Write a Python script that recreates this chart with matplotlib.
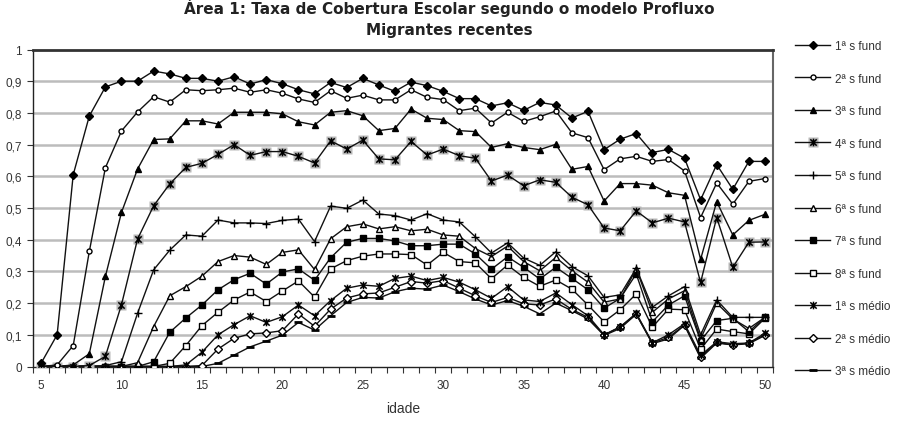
import matplotlib
matplotlib.use('Agg')
import matplotlib.pyplot as plt
from matplotlib.path import Path
from matplotlib.legend_handler import HandlerTuple

plt.rcParams['font.family'] = ['Liberation Sans', 'DejaVu Sans']

ages = list(range(5, 51))

s1 = [0.01, 0.10, 0.605, 0.79, 0.882, 0.90, 0.90, 0.932, 0.923, 0.909, 0.909, 0.90, 0.914, 0.891, 0.905,
      0.892, 0.873, 0.86, 0.896, 0.88, 0.909, 0.888, 0.868, 0.897, 0.886, 0.868, 0.845, 0.845, 0.822, 0.832,
      0.808, 0.833, 0.825, 0.784, 0.805, 0.684, 0.717, 0.735, 0.675, 0.685, 0.657, 0.526, 0.637, 0.559, 0.647, 0.647]
s2 = [0.0, 0.005, 0.066, 0.363, 0.627, 0.743, 0.803, 0.851, 0.834, 0.873, 0.87, 0.873, 0.878, 0.865, 0.873,
      0.862, 0.844, 0.833, 0.87, 0.846, 0.856, 0.841, 0.841, 0.873, 0.849, 0.842, 0.807, 0.815, 0.768, 0.802,
      0.773, 0.788, 0.806, 0.737, 0.722, 0.621, 0.655, 0.663, 0.647, 0.653, 0.617, 0.47, 0.579, 0.512, 0.584, 0.593]
s3 = [0.0, 0.0, 0.005, 0.04, 0.284, 0.486, 0.623, 0.716, 0.718, 0.775, 0.775, 0.765, 0.802, 0.802, 0.802,
      0.797, 0.772, 0.762, 0.802, 0.807, 0.791, 0.744, 0.751, 0.812, 0.783, 0.779, 0.744, 0.741, 0.691, 0.703,
      0.691, 0.684, 0.701, 0.622, 0.631, 0.522, 0.577, 0.577, 0.572, 0.548, 0.54, 0.338, 0.52, 0.415, 0.461, 0.48]
s4 = [0.0, 0.0, 0.0, 0.003, 0.032, 0.195, 0.402, 0.507, 0.576, 0.628, 0.641, 0.669, 0.70, 0.666, 0.678,
      0.678, 0.663, 0.642, 0.712, 0.686, 0.714, 0.655, 0.652, 0.71, 0.667, 0.686, 0.665, 0.657, 0.585, 0.604,
      0.57, 0.589, 0.581, 0.534, 0.51, 0.437, 0.428, 0.491, 0.453, 0.468, 0.456, 0.265, 0.47, 0.313, 0.392, 0.393]
s5 = [0.0, 0.0, 0.0, 0.0, 0.003, 0.015, 0.168, 0.305, 0.367, 0.415, 0.411, 0.462, 0.453, 0.453, 0.451,
      0.461, 0.465, 0.394, 0.506, 0.499, 0.525, 0.481, 0.476, 0.462, 0.482, 0.462, 0.456, 0.409, 0.358, 0.39,
      0.342, 0.319, 0.362, 0.315, 0.286, 0.218, 0.226, 0.31, 0.187, 0.223, 0.252, 0.10, 0.21, 0.155, 0.155, 0.155]
s6 = [0.0, 0.0, 0.0, 0.0, 0.0, 0.0, 0.012, 0.126, 0.223, 0.252, 0.285, 0.331, 0.35, 0.345, 0.322,
      0.36, 0.368, 0.306, 0.403, 0.441, 0.45, 0.434, 0.441, 0.428, 0.433, 0.415, 0.411, 0.372, 0.347, 0.38,
      0.331, 0.302, 0.344, 0.302, 0.266, 0.203, 0.213, 0.308, 0.171, 0.213, 0.239, 0.087, 0.20, 0.15, 0.12, 0.155]
s7 = [0.0, 0.0, 0.0, 0.0, 0.0, 0.0, 0.0, 0.015, 0.108, 0.153, 0.194, 0.242, 0.274, 0.294, 0.26,
      0.298, 0.308, 0.272, 0.343, 0.392, 0.404, 0.404, 0.396, 0.381, 0.381, 0.386, 0.386, 0.355, 0.307, 0.346,
      0.313, 0.276, 0.313, 0.278, 0.242, 0.184, 0.215, 0.292, 0.141, 0.194, 0.223, 0.081, 0.145, 0.152, 0.11, 0.155]
s8 = [0.0, 0.0, 0.0, 0.0, 0.0, 0.0, 0.0, 0.0, 0.01, 0.066, 0.129, 0.171, 0.21, 0.235, 0.205,
      0.238, 0.27, 0.219, 0.308, 0.334, 0.348, 0.355, 0.355, 0.353, 0.32, 0.36, 0.331, 0.327, 0.277, 0.32,
      0.281, 0.253, 0.273, 0.244, 0.194, 0.141, 0.179, 0.229, 0.124, 0.181, 0.179, 0.055, 0.118, 0.11, 0.103, 0.152]
s9 = [0.0, 0.0, 0.0, 0.0, 0.0, 0.0, 0.0, 0.0, 0.0, 0.005, 0.045, 0.10, 0.132, 0.16, 0.139,
      0.157, 0.194, 0.16, 0.208, 0.247, 0.257, 0.253, 0.278, 0.285, 0.271, 0.281, 0.266, 0.242, 0.215, 0.252,
      0.21, 0.205, 0.232, 0.195, 0.16, 0.10, 0.125, 0.168, 0.075, 0.10, 0.135, 0.035, 0.078, 0.072, 0.074, 0.105]
s10 = [0.0, 0.0, 0.0, 0.0, 0.0, 0.0, 0.0, 0.0, 0.0, 0.0, 0.003, 0.055, 0.089, 0.103, 0.106,
       0.113, 0.166, 0.127, 0.181, 0.216, 0.229, 0.232, 0.25, 0.268, 0.263, 0.271, 0.247, 0.223, 0.202, 0.218,
       0.198, 0.194, 0.213, 0.18, 0.155, 0.099, 0.125, 0.165, 0.074, 0.092, 0.131, 0.03, 0.076, 0.068, 0.074, 0.10]
s11 = [0.0, 0.0, 0.0, 0.0, 0.0, 0.0, 0.0, 0.0, 0.0, 0.0, 0.0, 0.01, 0.036, 0.062, 0.08,
       0.099, 0.139, 0.115, 0.16, 0.202, 0.218, 0.216, 0.236, 0.247, 0.244, 0.257, 0.236, 0.213, 0.194, 0.208,
       0.19, 0.166, 0.20, 0.176, 0.15, 0.098, 0.12, 0.165, 0.072, 0.087, 0.13, 0.026, 0.074, 0.068, 0.072, 0.098]

series = [s1, s2, s3, s4, s5, s6, s7, s8, s9, s10, s11]
labels = ['1ª s fund', '2ª s fund', '3ª s fund', '4ª s fund', '5ª s fund', '6ª s fund',
          '7ª s fund', '8ª s fund', '1ª s médio', '2ª s médio', '3ª s médio']
yticks = [0, 0.1, 0.2, 0.3, 0.4, 0.5, 0.6, 0.7, 0.8, 0.9, 1.0]
ytick_labels = ['0', '0,1', '0,2', '0,3', '0,4', '0,5', '0,6', '0,7', '0,8', '0,9', '1']
xticks = [5, 10, 15, 20, 25, 30, 35, 40, 45, 50]

star = Path([(-1, -1), (1, 1), (-1, 1), (1, -1), (0, -1.2), (0, 1.2)],
            [Path.MOVETO, Path.LINETO, Path.MOVETO, Path.LINETO, Path.MOVETO, Path.LINETO])

styles = [
    dict(marker='D', ms=4.0, mfc='black', mec='black'),
    dict(marker='o', ms=3.6, mfc='white', mec='black'),
    dict(marker='^', ms=5.0, mfc='black', mec='black'),
    dict(marker=star, ms=5.5, mfc='none', mec='black', mew=1.1),
    dict(marker='+', ms=6.0, mfc='none', mec='black', mew=1.0),
    dict(marker='^', ms=5.0, mfc='white', mec='black'),
    dict(marker='s', ms=4.0, mfc='black', mec='black'),
    dict(marker='s', ms=4.0, mfc='white', mec='black'),
    dict(marker=star, ms=5.5, mfc='none', mec='black', mew=1.1),
    dict(marker='D', ms=3.6, mfc='white', mec='black'),
    dict(marker='_', ms=5.5, mfc='black', mec='black', mew=2.0),
]

W, H = 921, 427
fig = plt.figure(figsize=(W / 100, H / 100), dpi=100)
ax = fig.add_axes([33 / W, 1 - 367.5 / H, 740 / W, 317 / H])

handles = []
for i, (vals, lab, st) in enumerate(zip(series, labels, styles)):
    z = 3 + (len(series) - i) * 0.1
    if i == 3:
        bg, = ax.plot(ages, vals, linestyle='none', marker='s', ms=6.5, mfc='#b8b8b8', mec='none', zorder=z)
        ln, = ax.plot(ages, vals, color='#111111', lw=1.0, zorder=z + 0.01, **st)
        handles.append((bg, ln))
    else:
        ln, = ax.plot(ages, vals, color='#111111', lw=1.0, zorder=z, **st)
        handles.append(ln)

ax.set_xlim(4.5, 50.5)
ax.set_ylim(0, 1)
ax.set_yticks(yticks)
ax.set_yticklabels(ytick_labels)
ax.set_xticks(xticks)
ax.set_xticks([a - 0.5 for a in ages] + [ages[-1] + 0.5], minor=True)
ax.tick_params(axis='x', which='major', length=0, pad=9, labelsize=8.5, colors='#333333')
ax.tick_params(axis='x', which='minor', length=4, width=0.8, direction='out', color='#333333')
ax.tick_params(axis='y', which='major', length=4, width=0.8, direction='out', pad=4, labelsize=8.5,
               colors='#333333')
for y in yticks[1:-1]:
    ax.axhline(y, color='#bcbcbc', lw=1.8, zorder=1)

ax.spines['left'].set_color('#222222')
ax.spines['left'].set_linewidth(1.0)
ax.spines['bottom'].set_color('#222222')
ax.spines['bottom'].set_linewidth(1.0)
ax.spines['top'].set_color('#333333')
ax.spines['top'].set_linewidth(2.0)
ax.spines['right'].set_color('#666666')
ax.spines['right'].set_linewidth(1.5)

fig.text(449 / W, 1 - 8 / H, 'Área 1: Taxa de Cobertura Escolar segundo o modelo Profluxo',
         ha='center', va='center', fontsize=11, fontweight='bold',
         family=['Liberation Sans Narrow', 'DejaVu Sans'], color='#222222')
fig.text(449 / W, 1 - 30 / H, 'Migrantes recentes',
         ha='center', va='center', fontsize=11, fontweight='bold',
         family=['Liberation Sans Narrow', 'DejaVu Sans'], color='#222222')
fig.text(403 / W, 1 - 409 / H, 'idade', ha='center', va='center', fontsize=10, color='#333333')

fig.legend(handles, labels, loc='upper left', bbox_to_anchor=(795 / W, 1 - 41 / H),
           frameon=False, fontsize=8.5, handlelength=3.0, handletextpad=0.4,
           labelspacing=1.74, borderaxespad=0, borderpad=0,
           handler_map={tuple: HandlerTuple(ndivide=1)}, labelcolor='#333333')

fig.savefig('out.png', dpi=100)
